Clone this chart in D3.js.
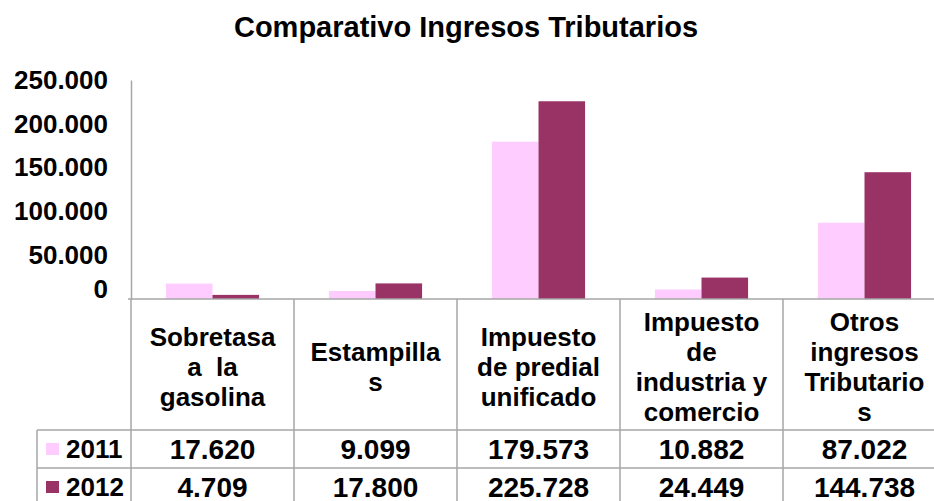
<!DOCTYPE html>
<html>
<head>
<meta charset="utf-8">
<script src="https://cdn.jsdelivr.net/npm/d3@7"></script>
<style>
  body { margin: 0; background: #fff; }
  svg { display: block; font-family: "Liberation Sans", Arial, sans-serif; font-weight: bold; }
</style>
</head>
<body>
<div id="chart"></div>
<script>
// data
const categories = [
  ['Sobretasa', 'a  la', 'gasolina'],
  ['Estampilla', 's'],
  ['Impuesto', 'de predial', 'unificado'],
  ['Impuesto', 'de', 'industria y', 'comercio'],
  ['Otros', 'ingresos', 'Tributario', 's']
];
const series = ['2011', '2012'];
const values2011 = [17620, 9099, 179573, 10882, 87022];
const values2012 = [4709, 17800, 225728, 24449, 144738];
const yTicks = [0, 50000, 100000, 150000, 200000, 250000];
const colors = ['#ffccff', '#993366'];

const width = 934, height = 501;
const margin = {t: 80, l: 131};
const base = 299;          // category axis / top of table
const colW = 163;
const gridColor = '#a6a6a6';

const locale = d3.formatLocale({decimal: ',', thousands: '.', grouping: [3], currency: ['$', '']});
const fmt = locale.format(',d');

const svg = d3.select('#chart')
    .append('svg')
    .attr('width', width)
    .attr('height', height);

// title
svg.append('text')
    .attr('x', 466)
    .attr('y', 37)
    .attr('text-anchor', 'middle')
    .style('font-size', '29px')
    .text('Comparativo Ingresos Tributarios');

// scales
const idx = d3.range(categories.length);
const x0 = d3.scaleBand()
    .domain(idx)
    .range([margin.l, margin.l + colW * categories.length]);
const x1 = d3.scaleBand()
    .domain(series)
    .range([0, x0.bandwidth()])
    .paddingOuter(0.75);
const y = d3.scaleLinear()
    .domain([0, 250000])
    .range([base, margin.t]);

// y axis
const yAxis = svg.append('g')
    .attr('transform', `translate(${margin.l},0)`)
    .call(d3.axisLeft(y).tickValues(yTicks).tickSize(0).tickPadding(23).tickFormat(d => fmt(d)));
yAxis.select('.domain').attr('stroke', gridColor).attr('stroke-width', 1.5);
yAxis.selectAll('text')
    .style('font-size', '26px')
    .style('font-family', '"Liberation Sans", Arial, sans-serif')
    .attr('fill', '#000')
    .attr('dy', d => d === 0 ? '-0.05em' : '0.32em');

// bars
const data = idx.map(i => ({i, vals: [values2011[i], values2012[i]]}));
const groups = svg.append('g')
    .selectAll('g')
    .data(data)
    .join('g')
    .attr('transform', d => `translate(${x0(d.i)},0)`);
groups.selectAll('rect')
    .data(d => d.vals.map((v, k) => ({s: series[k], v, k})))
    .join('rect')
    .attr('x', d => x1(d.s))
    .attr('width', x1.bandwidth())
    .attr('y', d => y(d.v))
    .attr('height', d => y(0) - y(d.v))
    .attr('fill', d => colors[d.k]);

// data table
const table = svg.append('g').attr('stroke', gridColor).attr('stroke-width', 1.5);
const row1 = 430, row2 = 468;
const tableRight = x0.range()[1];
table.append('line').attr('x1', margin.l - 3).attr('x2', tableRight).attr('y1', base).attr('y2', base);
table.append('line').attr('x1', 37).attr('x2', tableRight).attr('y1', row1).attr('y2', row1);
table.append('line').attr('x1', 37).attr('x2', tableRight).attr('y1', row2).attr('y2', row2);
table.append('line').attr('x1', 37).attr('x2', 37).attr('y1', row1).attr('y2', height);
table.selectAll('.vline')
    .data(idx.concat([categories.length]))
    .join('line')
    .attr('class', 'vline')
    .attr('x1', i => i < categories.length ? x0(i) : tableRight)
    .attr('x2', i => i < categories.length ? x0(i) : tableRight)
    .attr('y1', base)
    .attr('y2', height);

// category labels
const lineH = 30;
svg.append('g')
    .selectAll('text')
    .data(idx)
    .join('text')
    .attr('text-anchor', 'middle')
    .style('font-size', '26px')
    .style('white-space', 'pre')
    .each(function(i) {
        const lines = categories[i];
        const cy = (base + row1) / 2 + 2;
        const t = d3.select(this);
        lines.forEach((ln, k) => {
            t.append('tspan')
                .attr('x', x0(i) + x0.bandwidth() / 2)
                .attr('y', cy + (k - (lines.length - 1) / 2) * lineH)
                .attr('dy', '0.35em')
                .text(ln);
        });
    });

// value rows + legend keys
const rows = [{s: series[0], vals: values2011, cy: 449}, {s: series[1], vals: values2012, cy: 487}];
rows.forEach((r, k) => {
    svg.append('rect')
        .attr('x', 46).attr('y', r.cy - 6)
        .attr('width', 13).attr('height', 12)
        .attr('fill', colors[k]);
    svg.append('text')
        .attr('x', 66).attr('y', r.cy)
        .attr('dy', '0.35em')
        .style('font-size', '26px')
        .text(r.s);
    svg.append('g')
        .selectAll('text')
        .data(r.vals)
        .join('text')
        .attr('x', (d, i) => x0(i) + x0.bandwidth() / 2)
        .attr('y', r.cy)
        .attr('dy', '0.35em')
        .attr('text-anchor', 'middle')
        .style('font-size', '28px')
        .text(d => fmt(d));
});
</script>
</body>
</html>
